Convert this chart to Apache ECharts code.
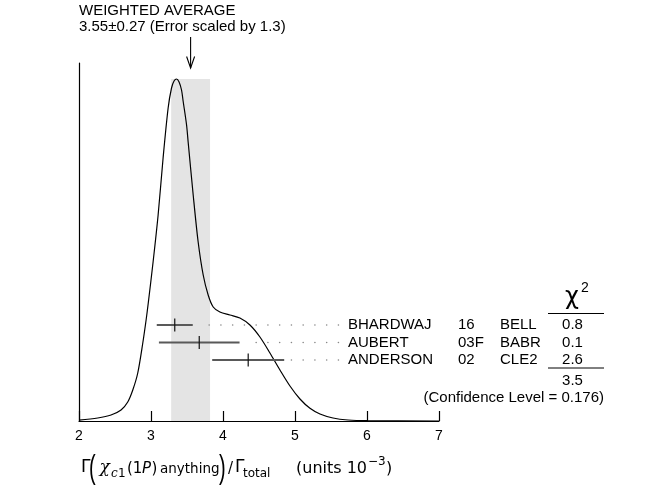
<!DOCTYPE html>
<html>
<head>
<meta charset="utf-8">
<script src="https://cdn.jsdelivr.net/npm/echarts/dist/echarts.min.js"></script>
<style>html,body{margin:0;padding:0;background:#fff;}#c{width:660px;height:486px;}</style>
</head>
<body>
<div id="c"></div>
<script>
// ---- data ----
const names = ['BHARDWAJ', 'AUBERT', 'ANDERSON'];
const years = ['16', '03F', '02'];
const experiments = ['BELL', 'BABR', 'CLE2'];
const values = [3.33, 3.67, 4.35];
const errors = [0.25, 0.56, 0.50];
const chi2 = ['0.8', '0.1', '2.6'];
const chi2Total = '3.5';
const confidenceLevel = '0.176';
const average = 3.55;
const averageError = 0.27;
const errorScale = 1.3;
const xTicks = [2, 3, 4, 5, 6, 7];
// ideogram curve (x, height in arbitrary units)
const curveX = [2.00, 2.26, 2.445, 2.584, 2.677, 2.747, 2.816, 2.886, 2.932, 2.962, 3.029, 3.099, 3.168, 3.238, 3.285, 3.32, 3.355, 3.39, 3.424, 3.446, 3.494, 3.516, 3.586, 3.655, 3.725, 3.794, 3.864, 3.957, 4.096, 4.235, 4.374, 4.513, 4.652, 4.791, 4.930, 5.069, 5.208, 5.347, 5.528, 5.737, 6.0, 7.0];
const curveY = [0.8, 3, 6, 11, 19, 31, 48, 78, 101, 118, 159, 206, 263, 313, 333, 340, 342, 339, 331, 320, 296, 279, 226, 179, 146, 126, 114, 109, 106, 103, 96, 84, 68, 51, 35, 22, 12.7, 7, 3, 1, 0.3, 0];

const yMax = 358;
const rowTop = 96, rowStep = 17.5;
const font = '"Liberation Sans", Arial, sans-serif';

const chart = echarts.init(document.getElementById('c'), null, {renderer: 'canvas'});

const curveData = curveX.map((x, i) => [x, curveY[i]]);
const measData = values.map((v, i) => [v - errors[i], v + errors[i], v, i]);
const peak = Math.max(...curveY);

function txt(text, x, y, size, align, extra) {
  return Object.assign({type: 'text', style: {text: text, x: x, y: y, font: size + 'px ' + font, fill: '#000', align: align || 'left', verticalAlign: 'middle'}}, extra || {});
}

function measRender(params, api) {
  const lo = api.value(0), hi = api.value(1), c = api.value(2), i = api.value(3);
  const y = rowTop - rowStep * i;
  const pLo = api.coord([lo, y]), pHi = api.coord([hi, y]), pC = api.coord([c, y]);
  const children = [
    {type: 'line', shape: {x1: pLo[0], y1: pLo[1], x2: pHi[0], y2: pHi[1]}, style: {stroke: '#595959', lineWidth: 2}},
    {type: 'line', shape: {x1: pC[0], y1: pC[1] - 6.5, x2: pC[0], y2: pC[1] + 6.5}, style: {stroke: '#111', lineWidth: 1.2}}
  ];
  const gridStart = api.coord([3.808, y])[0];
  for (let x = gridStart; x <= 341; x += 11.75) {
    if (x > pHi[0] + 7) children.push({type: 'circle', shape: {cx: x, cy: pC[1], r: 0.8}, style: {fill: '#888'}});
  }
  children.push(txt(names[i], 348, pC[1], 15));
  children.push(txt(years[i], 458, pC[1], 15));
  children.push(txt(experiments[i], 500, pC[1], 15));
  children.push(txt(chi2[i], 572.5, pC[1], 15, 'center'));
  return {type: 'group', children: children};
}

function avgRender(params, api) {
  const ax = api.coord([api.value(0), 0])[0];
  return {type: 'group', children: [
    txt('WEIGHTED AVERAGE', 79, 10.5, 15),
    txt(average.toFixed(2) + '±' + averageError.toFixed(2) + ' (Error scaled by ' + errorScale + ')', 79, 26.5, 15),
    {type: 'line', shape: {x1: ax, y1: 37, x2: ax, y2: 68}, style: {stroke: '#000', lineWidth: 1.1}},
    {type: 'polyline', shape: {points: [[ax - 4, 56.5], [ax, 68], [ax + 4, 56.5]]}, style: {stroke: '#000', lineWidth: 1.1, fill: null}}
  ]};
}

// chi-square block + title
const graphics = [
  {type: 'text', x: 565, y: 298, style: {text: 'χ', font: '24px "DejaVu Sans", sans-serif', fill: '#000', verticalAlign: 'middle'}},
  {type: 'text', x: 581, y: 288, style: {text: '2', font: '14px ' + font, fill: '#000', verticalAlign: 'middle'}},
  {type: 'line', shape: {x1: 548, y1: 313.5, x2: 604, y2: 313.5}, style: {stroke: '#000', lineWidth: 1}},
  {type: 'line', shape: {x1: 548, y1: 368, x2: 604, y2: 368}, style: {stroke: '#000', lineWidth: 1}},
  {type: 'text', x: 572.5, y: 381, style: {text: chi2Total, font: '15px ' + font, fill: '#000', align: 'center', verticalAlign: 'middle'}},
  {type: 'text', x: 604, y: 398, style: {text: '(Confidence Level = ' + confidenceLevel + ')', font: '15px ' + font, fill: '#000', align: 'right', verticalAlign: 'middle'}}
];

// axis title pieces: [text, x, baseline, size, family, style]
const dv = '"DejaVu Sans", sans-serif', dvs = '"DejaVu Serif", serif';
const titlePieces = [
  ['Γ', 81, 474, 17, dv, ''],
  ['χ', 99.5, 474, 17, dvs, 'italic '],
  ['c', 111, 478, 12, dvs, 'italic '],
  ['1', 118, 478, 12, dv, ''],
  ['(1', 127, 474, 15, dv, ''],
  ['P', 142, 474, 15, dv, 'italic '],
  [')', 151.5, 474, 15, dv, ''],
  ['anything', 160, 474, 13.5, dv, ''],
  ['/', 228, 474, 15, dv, ''],
  ['Γ', 235, 474, 17, dv, ''],
  ['total', 243, 478, 12, dv, ''],
  ['(units 10', 296, 474, 16, dv, ''],
  ['−3', 368, 466, 12, dv, ''],
  [')', 386, 474, 16, dv, '']
];
titlePieces.forEach(p => {
  graphics.push({type: 'text', x: p[1], y: p[2] - 0.35 * p[3], style: {text: p[0], font: p[5] + p[3] + 'px ' + p[4], fill: '#000', verticalAlign: 'middle'}});
});
[['(', 89], [')', 219]].forEach(p => {
  graphics.push({type: 'text', x: p[1], y: 469, scaleY: 1.7, style: {text: p[0], font: '20px ' + font, fill: '#000', verticalAlign: 'middle', y: 0}});
});

chart.setOption({
  animation: false,
  backgroundColor: '#fff',
  grid: {left: 79, right: 221, top: 63, bottom: 65},
  xAxis: {
    type: 'value', min: xTicks[0], max: xTicks[xTicks.length - 1], interval: 1,
    axisLine: {lineStyle: {color: '#000', width: 1.2}},
    axisTick: {inside: true, length: 10, lineStyle: {color: '#000', width: 1.2}},
    axisLabel: {color: '#000', fontSize: 14, fontFamily: font, margin: 8},
    splitLine: {show: false}
  },
  yAxis: {
    type: 'value', min: 0, max: yMax,
    axisLine: {show: true, lineStyle: {color: '#000', width: 1.2}},
    axisTick: {show: false}, axisLabel: {show: false}, splitLine: {show: false}
  },
  graphic: graphics,
  series: [
    {
      type: 'line', data: curveData, smooth: 0.3, showSymbol: false, symbol: 'none', z: 3,
      lineStyle: {color: '#000', width: 1.2},
      markArea: {silent: true, itemStyle: {color: '#e4e4e4'}, z: 1,
        data: [[{xAxis: average - averageError, yAxis: 0}, {xAxis: average + averageError, yAxis: peak}]]}
    },
    {type: 'custom', data: measData, renderItem: measRender, clip: false, z: 4},
    {type: 'custom', data: [[average]], renderItem: avgRender, clip: false, z: 4}
  ]
});
</script>
</body>
</html>
